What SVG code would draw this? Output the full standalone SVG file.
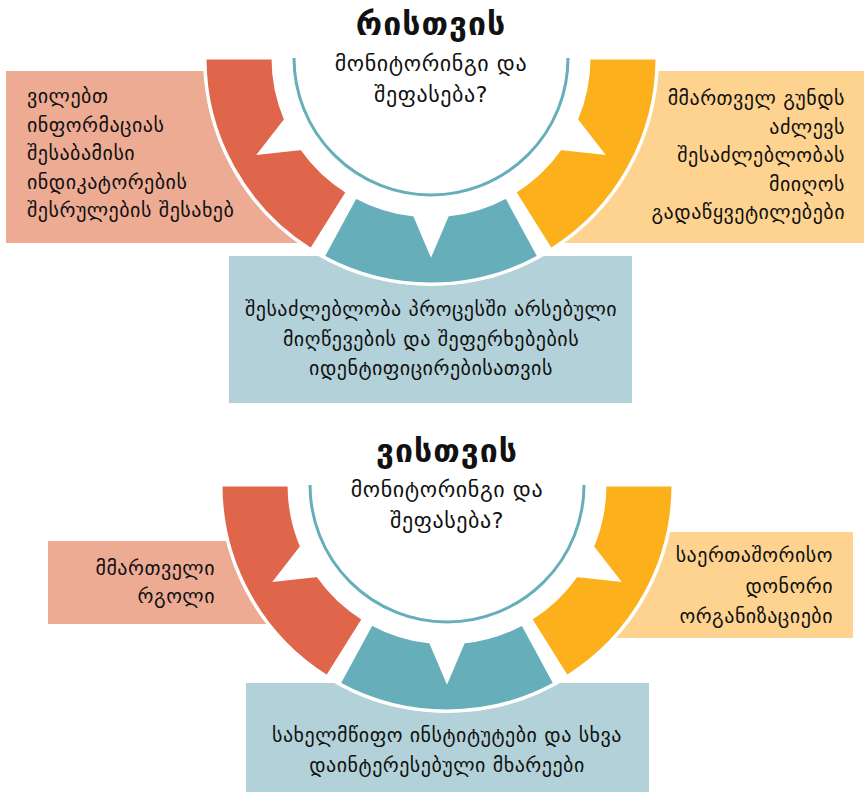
<svg xmlns="http://www.w3.org/2000/svg" width="865" height="792" viewBox="0 0 865 792">
  <style>
    text { font-family: "DejaVu Sans", "Noto Sans", sans-serif; fill: #111111; font-size: 20px; letter-spacing: 0.5px; }
    .title { font-size: 32px; font-weight: bold; text-anchor: middle; letter-spacing: 1px; }
    .sub { font-size: 22px; text-anchor: middle; letter-spacing: 0.6px; }
    .mid { text-anchor: middle; }
    .end { text-anchor: end; }
    .seg { stroke: #ffffff; stroke-width: 3; stroke-linejoin: miter; }
    .red { fill: #DF654B; }
    .teal { fill: #67AEBB; }
    .orange { fill: #FBB01C; }
    .boxSalmon { fill: #EDAB94; }
    .boxOrange { fill: #FDD38F; }
    .boxTeal { fill: #B3D1D9; }
    .arc { fill: none; stroke: #67AEBB; stroke-width: 3; }
  </style>
  <defs>
    <path id="segOrange" class="seg orange" d="M 226 0 A 226 226 0 0 1 119.76 191.65 L 83.72 133.98 A 158 158 0 0 0 129.43 90.63 L 171.42 95.02 L 145.44 61.73 A 158 158 0 0 0 158 0 Z"/>
    <path id="segTeal" class="seg teal" d="M 107.85 198.61 A 226 226 0 0 1 -107.85 198.61 L -75.40 138.85 A 158 158 0 0 0 -16.51 157.13 L 0 196 L 16.51 157.13 A 158 158 0 0 0 75.40 138.85 Z"/>
    <path id="segRed" class="seg red" d="M -119.76 191.65 A 226 226 0 0 1 -226 0 L -158 0 A 158 158 0 0 0 -145.44 61.73 L -171.42 95.02 L -129.43 90.63 A 158 158 0 0 0 -83.72 133.98 Z"/>
    <path id="halfDisk" fill="#ffffff" d="M -228 0 A 228 228 0 0 0 228 0 Z"/>
  </defs>
  <rect width="865" height="792" fill="#ffffff"/>

  <!-- TOP DIAGRAM -->
  <g id="top-left-box">
    <rect class="boxSalmon" x="6" y="71" width="310" height="172"/>
  </g>
  <g id="top-right-box">
    <rect class="boxOrange" x="548" y="71" width="316" height="172"/>
  </g>
  <g id="top-bottom-box">
    <rect class="boxTeal" x="229" y="256" width="403" height="147"/>
  </g>
  <g id="top-ring" transform="translate(431 58)">
    <use href="#halfDisk"/>
    <use href="#segRed"/>
    <use href="#segTeal"/>
    <use href="#segOrange"/>
    <path class="arc" d="M -137 0 A 137 137 0 0 0 137 0"/>
  </g>
  <g id="top-center">
    <text class="title" x="431" y="35">რისთვის</text>
    <text class="sub" x="431" y="71">მონიტორინგი და</text>
    <text class="sub" x="431" y="102">შეფასება?</text>
  </g>
  <g id="top-left-text">
    <text x="27" y="103">ვილებთ</text>
    <text x="27" y="131.5">ინფორმაციას</text>
    <text x="27" y="160">შესაბამისი</text>
    <text x="27" y="188.5">ინდიკატორების</text>
    <text x="27" y="217">შესრულების შესახებ</text>
  </g>
  <g id="top-right-text">
    <text class="end" x="845" y="105">მმართველ გუნდს</text>
    <text class="end" x="845" y="133.5">აძლევს</text>
    <text class="end" x="845" y="162">შესაძლებლობას</text>
    <text class="end" x="845" y="190.5">მიიღოს</text>
    <text class="end" x="845" y="219">გადაწყვეტილებები</text>
  </g>
  <g id="top-bottom-text">
    <text class="mid" x="431" y="316">შესაძლებლობა პროცესში არსებული</text>
    <text class="mid" x="431" y="346">მიღწევების და შეფერხებების</text>
    <text class="mid" x="431" y="375">იდენტიფიცირებისათვის</text>
  </g>

  <!-- BOTTOM DIAGRAM -->
  <g id="bottom-left-box">
    <rect class="boxSalmon" x="48" y="541" width="260" height="83"/>
  </g>
  <g id="bottom-right-box">
    <rect class="boxOrange" x="580" y="532" width="273" height="106"/>
  </g>
  <g id="bottom-bottom-box">
    <rect class="boxTeal" x="246" y="683" width="403" height="109"/>
  </g>
  <g id="bottom-ring" transform="translate(447 485)">
    <use href="#halfDisk"/>
    <use href="#segRed"/>
    <use href="#segTeal"/>
    <use href="#segOrange"/>
    <path class="arc" d="M -137 0 A 137 137 0 0 0 137 0"/>
  </g>
  <g id="bottom-center">
    <text class="title" x="447" y="462">ვისთვის</text>
    <text class="sub" x="447" y="497">მონიტორინგი და</text>
    <text class="sub" x="447" y="528">შეფასება?</text>
  </g>
  <g id="bottom-left-text">
    <text class="end" x="215" y="575">მმართველი</text>
    <text class="end" x="215" y="603">რგოლი</text>
  </g>
  <g id="bottom-right-text">
    <text class="end" x="833" y="562">საერთაშორისო</text>
    <text class="end" x="833" y="593">დონორი</text>
    <text class="end" x="833" y="623">ორგანიზაციები</text>
  </g>
  <g id="bottom-bottom-text">
    <text class="mid" x="447" y="742">სახელმწიფო ინსტიტუტები და სხვა</text>
    <text class="mid" x="447" y="772">დაინტერესებული მხარეები</text>
  </g>
</svg>
